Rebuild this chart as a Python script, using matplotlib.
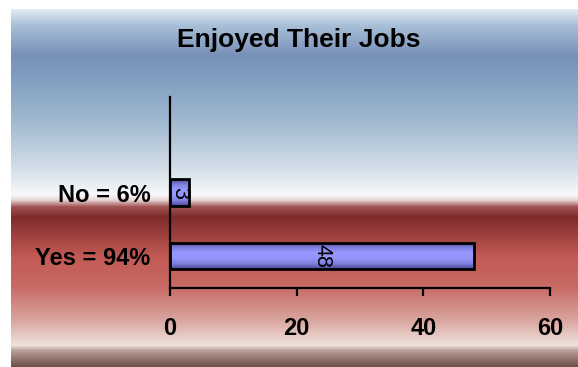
import numpy as np
import matplotlib.pyplot as plt
from matplotlib.colors import LinearSegmentedColormap

categories = ['Yes = 94%', 'No = 6%']
counts = [48, 3]
xticks = [0, 20, 40, 60]

plt.rcParams['font.family'] = ['Liberation Sans', 'DejaVu Sans']

W, H = 578, 367
fig = plt.figure(figsize=(W / 100, H / 100), dpi=100)

# background gradient panel (blue sky over red band)
bg = fig.add_axes([11 / W, 0, 1 - 11 / W, 1 - 9 / H])
bg.set_axis_off()
stops = [(0.0, '#705048'), (16 / 358, '#b8a098'), (21 / 358, '#f0e2dc'),
         (47 / 358, '#d9a49e'), (80 / 358, '#c86a65'), (110 / 358, '#c25a55'),
         (150 / 358, '#7f2b2b'), (160 / 358, '#a05252'), (167 / 358, '#e8d8d6'),
         (172 / 358, '#f8f9fa'), (197 / 358, '#d6e0ea'), (240 / 358, '#a6bdd2'),
         (290 / 358, '#7f9ec0'), (312 / 358, '#7890b8'), (342 / 358, '#a8bfd6'),
         (1.0, '#e0eaf3')]
bg_cmap = LinearSegmentedColormap.from_list('bg', stops)
grad = np.linspace(0, 1, 512).reshape(-1, 1)
bg.imshow(grad, aspect='auto', cmap=bg_cmap, origin='lower', extent=[0, 1, 0, 1])
bg.set_xlim(0, 1)
bg.set_ylim(0, 1)

ax = fig.add_axes([170 / W, 1 - 288 / H, (550 - 170) / W, (288 - 97) / H])
ax.patch.set_alpha(0)

bar_cmap = LinearSegmentedColormap.from_list(
    'bar', ['#4c4c98', '#8080e0', '#9898ff', '#9494fc', '#8080e0', '#4a4a98'])
ypos = np.arange(len(categories))
h = 0.41
bars = ax.barh(ypos, counts, height=h, facecolor='none', edgecolor='black',
               linewidth=2, zorder=3)
for b, v in zip(bars, counts):
    im = ax.imshow(np.linspace(0, 1, 64).reshape(-1, 1), aspect='auto',
                   cmap=bar_cmap, extent=[0, v, b.get_y(), b.get_y() + h],
                   zorder=2)
    im.set_clip_path(b)
    ax.text(v / 2, b.get_y() + h / 2, str(v), rotation=-90, ha='center',
            va='center', fontsize=15.5, zorder=4)

ax.set_xlim(0, 60)
ax.set_ylim(-0.5, 2.5)
ax.set_xticks(xticks)
ax.set_yticks(ypos)
ax.set_yticklabels(categories)
for s in ['top', 'right']:
    ax.spines[s].set_visible(False)
for s in ['left', 'bottom']:
    ax.spines[s].set_linewidth(1.6)
ax.tick_params(axis='x', direction='out', length=6, width=1.6, pad=15,
               labelsize=17)
ax.tick_params(axis='y', length=0, pad=14, labelsize=17)
for lab in ax.get_xticklabels() + ax.get_yticklabels():
    lab.set_fontweight('bold')

fig.text(299 / W, 1 - 40 / H, 'Enjoyed Their Jobs', ha='center', va='center',
         fontsize=19, fontweight='bold')

fig.savefig('out.png', dpi=100)
